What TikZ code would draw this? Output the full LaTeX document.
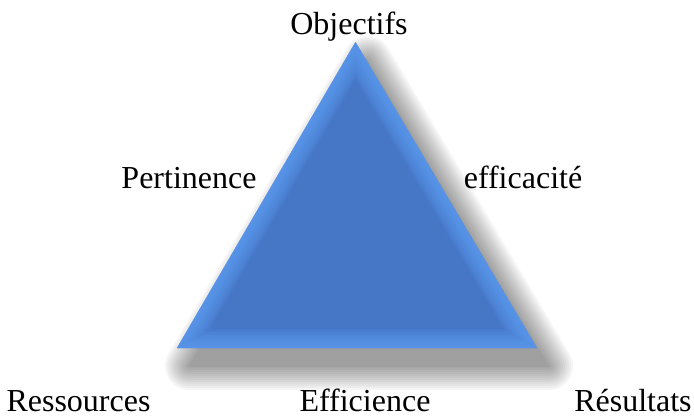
\documentclass[tikz,border=0pt]{standalone}
\usepackage{fontspec}
\setmainfont{Liberation Serif}
\definecolor{triedge}{RGB}{96,160,245}
\definecolor{tricore}{RGB}{70,118,198}
\begin{document}
\begin{tikzpicture}[x=1pt,y=-1pt,
  lbl/.style={font=\fontsize{32}{38}\selectfont, inner sep=0pt, anchor=base, text=black}]
\useasboundingbox (0,0) rectangle (694,420);
\coordinate (A) at (355.5,42);
\coordinate (B) at (177,348);
\coordinate (C) at (537,348);
\coordinate (As) at ([xshift=12pt,yshift=-18pt]A);
\coordinate (Bs) at ([xshift=12pt,yshift=-18pt]B);
\coordinate (Cs) at ([xshift=12pt,yshift=-18pt]C);
% shadow (soft, layered groups)
\foreach \w in {0,4,...,48}{
  \begin{scope}[transparency group, opacity=0.035]
    \filldraw[black, line width=\w pt, line join=round] (As)--(Bs)--(Cs)--cycle;
  \end{scope}
}
% triangle body
\fill[tricore] (A)--(B)--(C)--cycle;
\begin{scope}
  \clip (A)--(B)--(C)--cycle;
  \foreach \w in {2,5,...,38}
    \draw[triedge, opacity=0.11, line width=\w pt, line join=miter] (A)--(B)--(C)--cycle;
\end{scope}
% labels
\node[lbl] (obj)  at (349,35)  {Objectifs};
\node[lbl] (pert) at (189,188) {Pertinence};
\node[lbl] (eff)  at (523,188) {efficacité};
\node[lbl] (res)  at (78.5,411) {Ressources};
\node[lbl] (effi) at (365,411) {Efficience};
\node[lbl] (resu) at (633,411) {Résultats};
\end{tikzpicture}
\end{document}
